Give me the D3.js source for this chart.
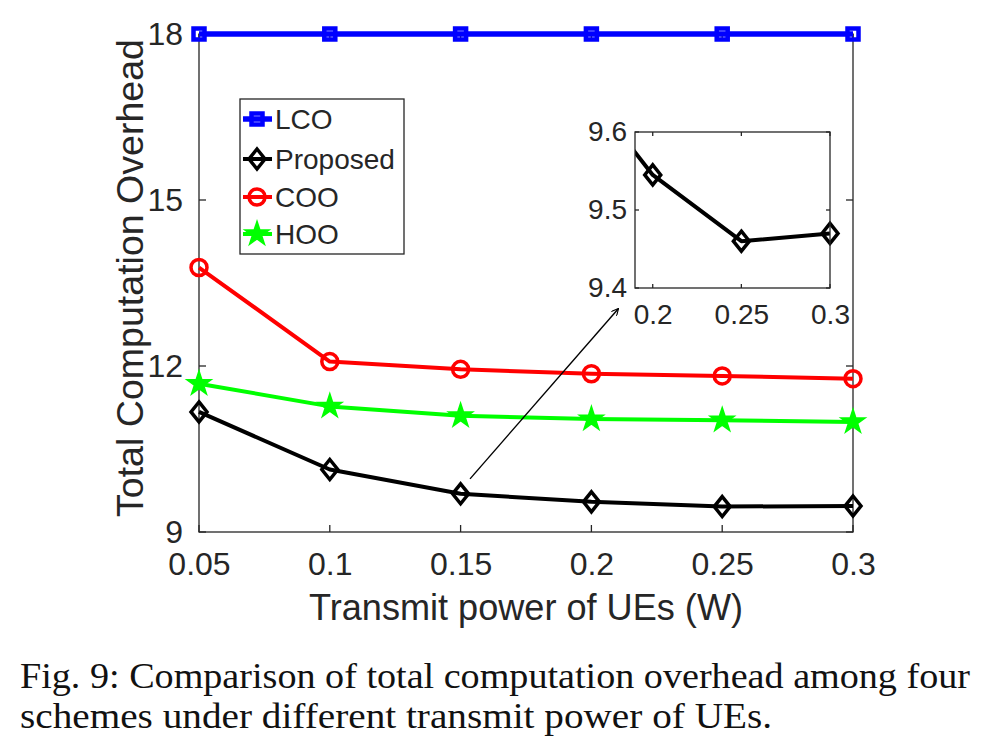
<!DOCTYPE html>
<html>
<head>
<meta charset="utf-8">
<script src="https://cdn.jsdelivr.net/npm/d3@7"></script>
<style>
  body { margin: 0; background: #fff; }
  text { font-family: "Liberation Sans", Arial, sans-serif; fill: #262626; }
  .caption { font-family: "Liberation Serif", "Times New Roman", serif; fill: #111; }
</style>
</head>
<body>
<div id="holder"></div>
<script>
const w = 988;
const h = 755;

// DATA
const powers = [0.05, 0.1, 0.15, 0.2, 0.25, 0.3];
const lco = [18, 18, 18, 18, 18, 18];
const proposed = [11.17, 10.13, 9.69, 9.545, 9.46, 9.47];
const coo = [13.78, 12.08, 11.94, 11.86, 11.82, 11.77];
const hoo = [11.68, 11.27, 11.10, 11.04, 11.02, 10.99];

const xTicks = [0.05, 0.1, 0.15, 0.2, 0.25, 0.3];
const yTicks = [9, 12, 15, 18];
const insetXTicks = [0.2, 0.25, 0.3];
const insetYTicks = [9.4, 9.5, 9.6];
const seriesNames = ["LCO", "Proposed", "COO", "HOO"];
const seriesColors = ["#0000ff", "#000000", "#ff0000", "#00ff00"];
const seriesMarkers = ["square", "diamond", "circle", "star"];
const seriesWidths = [5.5, 4, 4, 4];

const series = [lco, proposed, coo, hoo].map((vals, i) => ({
    name: seriesNames[i],
    color: seriesColors[i],
    marker: seriesMarkers[i],
    width: seriesWidths[i],
    points: vals.map((v, j) => ({ x: powers[j], y: v }))
}));

// arrow in data coordinates (from the Proposed curve to the inset)
const arrowFrom = { x: 0.1536, y: 9.96 };
const arrowTo = { x: 0.2102, y: 13.03 };

const axisColor = "#262626";

const svg = d3.select("#holder")
    .append("svg")
    .attr("width", w)
    .attr("height", h);

const defs = svg.append("defs");
defs.append("marker")
    .attr("id", "arrowhead")
    .attr("viewBox", "0 0 10 10")
    .attr("refX", 9).attr("refY", 5)
    .attr("markerWidth", 7).attr("markerHeight", 7)
    .attr("markerUnits", "userSpaceOnUse")
    .attr("orient", "auto")
    .append("path")
    .attr("d", "M0,0 L10,5 L0,10")
    .attr("fill", "none")
    .attr("stroke", "#000")
    .attr("stroke-width", 1.6);

// MARKER DRAWING
function drawMarker(g, type, color, x, y) {
    if (type === "square") {
        g.append("rect")
            .attr("x", x - 5.5).attr("y", y - 5.5)
            .attr("width", 11).attr("height", 11)
            .attr("fill", "none").attr("stroke", color).attr("stroke-width", 4.5);
    } else if (type === "diamond") {
        g.append("path")
            .attr("d", `M${x},${y - 10} L${x + 8},${y} L${x},${y + 10} L${x - 8},${y} Z`)
            .attr("fill", "none").attr("stroke", color).attr("stroke-width", 3.5);
    } else if (type === "circle") {
        g.append("circle")
            .attr("cx", x).attr("cy", y).attr("r", 8)
            .attr("fill", "none").attr("stroke", color).attr("stroke-width", 3.5);
    } else if (type === "star") {
        g.append("path")
            .attr("transform", `translate(${x},${y})`)
            .attr("d", d3.symbol(d3.symbolStar, 180)())
            .attr("fill", color).attr("stroke", color).attr("stroke-width", 1.5);
    }
}

// MAIN AXES
const mLeft = 199, mRight = 853, mTop = 34, mBottom = 532;

const xScale = d3.scaleLinear().domain([0.05, 0.3]).range([mLeft, mRight]);
const yScale = d3.scaleLinear().domain([9, 18]).range([mBottom, mTop]);

const line = d3.line().x(d => xScale(d.x)).y(d => yScale(d.y));

// tick labels
svg.append("g")
    .attr("transform", `translate(0,${mBottom})`)
    .call(d3.axisBottom(xScale).tickValues(xTicks).tickSize(0).tickPadding(20)
        .tickFormat(d => String(+d.toFixed(2))))
    .call(g => g.select(".domain").remove())
    .selectAll("text").attr("font-size", 32).attr("fill", axisColor)
    .attr("font-family", "Liberation Sans, Arial, sans-serif");

svg.append("g")
    .attr("transform", `translate(${mLeft},0)`)
    .call(d3.axisLeft(yScale).tickValues(yTicks).tickSize(0).tickPadding(16))
    .call(g => g.select(".domain").remove())
    .selectAll("text").attr("font-size", 32).attr("fill", axisColor)
    .attr("font-family", "Liberation Sans, Arial, sans-serif");

// inward ticks on all four sides
const frame = svg.append("g").attr("stroke", axisColor).attr("stroke-width", 1.3);
xTicks.forEach(t => {
    frame.append("line").attr("x1", xScale(t)).attr("x2", xScale(t)).attr("y1", mBottom).attr("y2", mBottom - 7);
    frame.append("line").attr("x1", xScale(t)).attr("x2", xScale(t)).attr("y1", mTop).attr("y2", mTop + 7);
});
yTicks.forEach(t => {
    frame.append("line").attr("x1", mLeft).attr("x2", mLeft + 7).attr("y1", yScale(t)).attr("y2", yScale(t));
    frame.append("line").attr("x1", mRight).attr("x2", mRight - 7).attr("y1", yScale(t)).attr("y2", yScale(t));
});
frame.append("rect")
    .attr("x", mLeft).attr("y", mTop)
    .attr("width", mRight - mLeft).attr("height", mBottom - mTop)
    .attr("fill", "none");

// axis titles
svg.append("text")
    .attr("x", (mLeft + mRight) / 2).attr("y", 620)
    .attr("text-anchor", "middle")
    .attr("font-size", 36)
    .attr("textLength", 434).attr("lengthAdjust", "spacingAndGlyphs")
    .text("Transmit power of UEs (W)");

svg.append("text")
    .attr("transform", `translate(143,${(39 + 517) / 2}) rotate(-90)`)
    .attr("text-anchor", "middle")
    .attr("font-size", 37)
    .attr("textLength", 478).attr("lengthAdjust", "spacingAndGlyphs")
    .text("Total Computation Overhead");

// SERIES
const plot = svg.append("g");
series.slice().reverse().forEach(s => {
    plot.append("path")
        .datum(s.points)
        .attr("d", line)
        .attr("fill", "none")
        .attr("stroke", s.color)
        .attr("stroke-width", s.width)
        .attr("stroke-linejoin", "round");
    s.points.forEach(p => drawMarker(plot, s.marker, s.color, xScale(p.x), yScale(p.y)));
});

// LEGEND
const legend = svg.append("g");
legend.append("rect")
    .attr("x", 240).attr("y", 99)
    .attr("width", 164).attr("height", 155)
    .attr("fill", "#fff").attr("stroke", axisColor).attr("stroke-width", 1.3);
const legendY = [119, 159, 197, 234];
series.forEach((s, i) => {
    const y = legendY[i];
    legend.append("line")
        .attr("x1", 243).attr("x2", 272).attr("y1", y).attr("y2", y)
        .attr("stroke", s.color).attr("stroke-width", s.width);
    drawMarker(legend, s.marker, s.color, 257, y);
    legend.append("text")
        .attr("x", 275).attr("y", y + 10)
        .attr("font-size", 28).attr("fill", "#000")
        .text(s.name);
});

// ARROW
svg.append("line")
    .attr("x1", xScale(arrowFrom.x)).attr("y1", yScale(arrowFrom.y))
    .attr("x2", xScale(arrowTo.x)).attr("y2", yScale(arrowTo.y))
    .attr("stroke", "#000").attr("stroke-width", 1.4)
    .attr("marker-end", "url(#arrowhead)");

// INSET
const iLeft = 635, iRight = 830, iTop = 132, iBottom = 288;
const ixScale = d3.scaleLinear().domain([0.19, 0.3]).range([iLeft, iRight]);
const iyScale = d3.scaleLinear().domain([9.4, 9.6]).range([iBottom, iTop]);

defs.append("clipPath").attr("id", "insetClip")
    .append("rect")
    .attr("x", iLeft).attr("y", iTop)
    .attr("width", iRight - iLeft).attr("height", iBottom - iTop);

const inset = svg.append("g");
inset.append("rect")
    .attr("x", iLeft).attr("y", iTop)
    .attr("width", iRight - iLeft).attr("height", iBottom - iTop)
    .attr("fill", "#fff");

const iData = series[1].points;
const iLine = d3.line().x(d => ixScale(d.x)).y(d => iyScale(d.y));
inset.append("path")
    .datum(iData)
    .attr("d", iLine)
    .attr("fill", "none")
    .attr("stroke", "#000")
    .attr("stroke-width", 4)
    .attr("stroke-linejoin", "round")
    .attr("clip-path", "url(#insetClip)");
iData.filter(p => p.x >= 0.19).forEach(p => drawMarker(inset, "diamond", "#000", ixScale(p.x), iyScale(p.y)));

const iframe = inset.append("g").attr("stroke", axisColor).attr("stroke-width", 1.3);
insetXTicks.forEach(t => {
    iframe.append("line").attr("x1", ixScale(t)).attr("x2", ixScale(t)).attr("y1", iBottom).attr("y2", iBottom - 4);
    iframe.append("line").attr("x1", ixScale(t)).attr("x2", ixScale(t)).attr("y1", iTop).attr("y2", iTop + 4);
});
insetYTicks.forEach(t => {
    iframe.append("line").attr("x1", iLeft).attr("x2", iLeft + 4).attr("y1", iyScale(t)).attr("y2", iyScale(t));
    iframe.append("line").attr("x1", iRight).attr("x2", iRight - 4).attr("y1", iyScale(t)).attr("y2", iyScale(t));
});
iframe.append("rect")
    .attr("x", iLeft).attr("y", iTop)
    .attr("width", iRight - iLeft).attr("height", iBottom - iTop)
    .attr("fill", "none");

inset.append("g")
    .attr("transform", `translate(0,${iBottom})`)
    .call(d3.axisBottom(ixScale).tickValues(insetXTicks).tickSize(0).tickPadding(16)
        .tickFormat(d => String(+d.toFixed(2))))
    .call(g => g.select(".domain").remove())
    .selectAll("text").attr("font-size", 28).attr("fill", axisColor)
    .attr("font-family", "Liberation Sans, Arial, sans-serif");

inset.append("g")
    .attr("transform", `translate(${iLeft},0)`)
    .call(d3.axisLeft(iyScale).tickValues(insetYTicks).tickSize(0).tickPadding(8)
        .tickFormat(d3.format(".1f")))
    .call(g => g.select(".domain").remove())
    .selectAll("text").attr("font-size", 28).attr("fill", axisColor)
    .attr("font-family", "Liberation Sans, Arial, sans-serif");

// CAPTION
svg.append("text")
    .attr("class", "caption")
    .attr("x", 20).attr("y", 688)
    .attr("font-size", 36)
    .attr("textLength", 950).attr("lengthAdjust", "spacingAndGlyphs")
    .text("Fig. 9: Comparison of total computation overhead among four");
svg.append("text")
    .attr("class", "caption")
    .attr("x", 20).attr("y", 728)
    .attr("font-size", 36)
    .attr("textLength", 752).attr("lengthAdjust", "spacingAndGlyphs")
    .text("schemes under different transmit power of UEs.");
</script>
</body>
</html>
